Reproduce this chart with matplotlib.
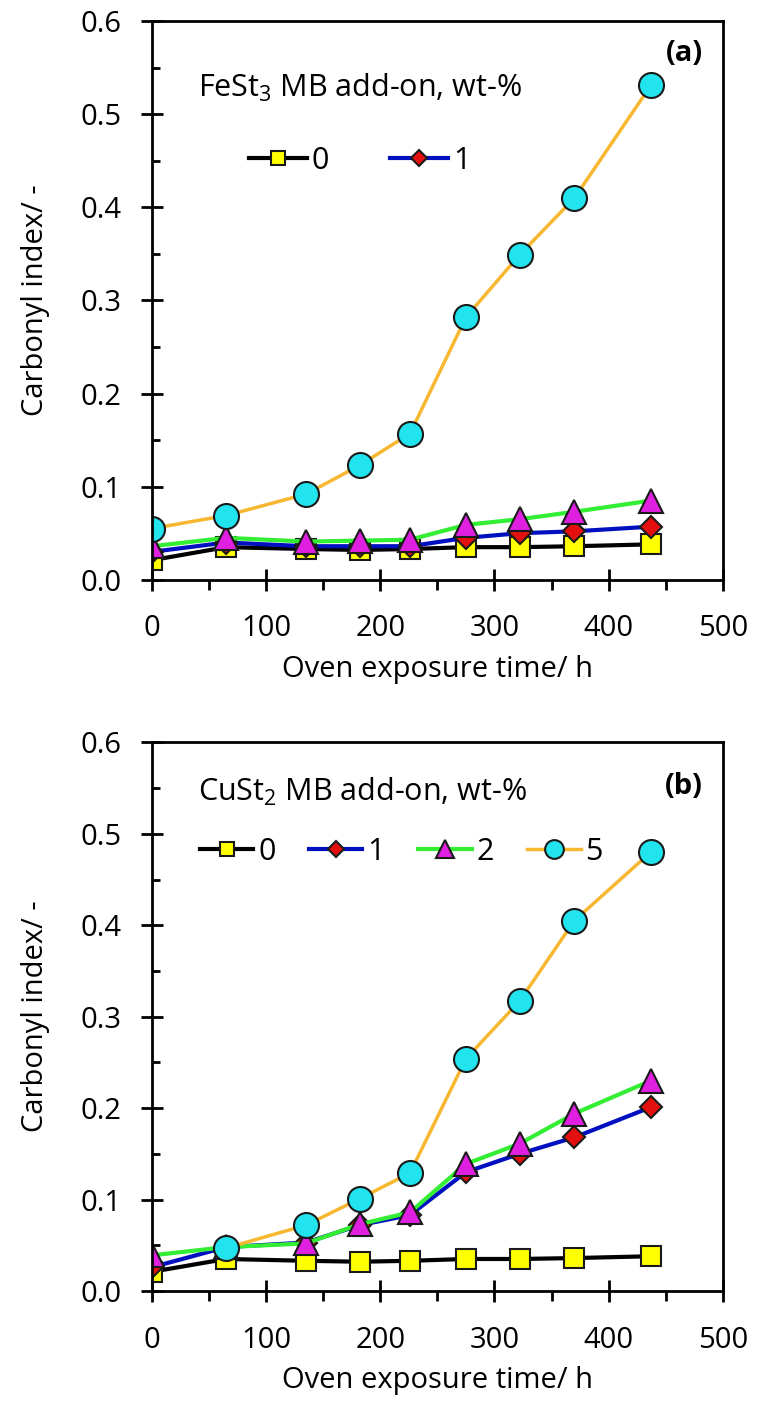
import numpy as np
import matplotlib
matplotlib.use("Agg")
from matplotlib import pyplot as plt
from matplotlib.ticker import MultipleLocator

plt.rcParams["font.family"] = ["Open Sans", "DejaVu Sans"]
plt.rcParams["mathtext.fontset"] = "custom"
plt.rcParams["mathtext.rm"] = "Open Sans"
plt.rcParams["mathtext.it"] = "Open Sans"

# exposure times (h)
hours = [0, 65, 135, 182, 226, 275, 322, 370, 437]
loadings = ["0", "1", "2", "5"]

# carbonyl index, FeSt3 masterbatch
fe_0 = [0.021, 0.035, 0.033, 0.032, 0.033, 0.035, 0.035, 0.036, 0.038]
fe_1 = [0.030, 0.040, 0.036, 0.036, 0.036, 0.045, 0.050, 0.052, 0.057]
fe_2 = [0.036, 0.045, 0.041, 0.042, 0.043, 0.059, 0.065, 0.073, 0.085]
fe_5 = [0.055, 0.069, 0.092, 0.123, 0.157, 0.282, 0.349, 0.410, 0.531]

# carbonyl index, CuSt2 masterbatch
cu_0 = [0.021, 0.035, 0.033, 0.032, 0.033, 0.035, 0.035, 0.036, 0.038]
cu_1 = [0.026, 0.048, 0.053, 0.072, 0.083, 0.130, 0.150, 0.168, 0.201]
cu_2 = [0.039, 0.048, 0.052, 0.073, 0.086, 0.139, 0.161, 0.194, 0.230]
cu_5 = [np.nan, 0.047, 0.072, 0.101, 0.129, 0.254, 0.317, 0.405, 0.480]

styles = [
    dict(color="black", marker="s", mfc="#ffff00", ms=14, lw=3),
    dict(color="#0010c0", marker="D", mfc="#e41010", ms=11, lw=3),
    dict(color="#33ee33", marker="^", mfc="#e020e0", ms=17, lw=3),
    dict(color="#f7b731", marker="o", mfc="#22e4ee", ms=18, lw=2.5),
]

fig = plt.figure(figsize=(7.57, 14.14), dpi=100)
ax_a = fig.add_axes([0.2008, 0.590, 0.754, 0.395])
ax_b = fig.add_axes([0.2008, 0.087, 0.754, 0.388])


def draw_panel(ax, series, title, tag, n_legend, leg_xy, title_y, tag_y, colspacing, handlelen):
    handles = []
    for vals, lab, st in zip(series, loadings, styles):
        h, = ax.plot(hours, vals, color=st["color"], lw=st["lw"], marker=st["marker"],
                     ms=st["ms"], mfc=st["mfc"], mec="#1a1a1a", mew=1.5, label=lab)
        handles.append(h)
    ax.set_xlim(0, 500)
    ax.set_ylim(0, 0.6)
    ax.xaxis.set_major_locator(MultipleLocator(100))
    ax.xaxis.set_minor_locator(MultipleLocator(50))
    ax.yaxis.set_major_locator(MultipleLocator(0.1))
    ax.yaxis.set_minor_locator(MultipleLocator(0.05))
    ax.yaxis.set_major_formatter(lambda v, p: f"{v:.1f}")
    ax.tick_params(which="major", direction="inout", length=16, width=2, labelsize=21)
    ax.tick_params(axis="x", which="major", pad=17)
    ax.tick_params(axis="y", which="major", pad=14)
    ax.tick_params(axis="x", which="minor", direction="out", length=7, width=2)
    ax.tick_params(axis="y", which="minor", direction="in", length=6, width=2)
    for sp in ax.spines.values():
        sp.set_linewidth(2)
    ax.set_xlabel("Oven exposure time/ h", fontsize=21, labelpad=8)
    ax.set_ylabel("Carbonyl index/ -", fontsize=21, labelpad=22)
    ax.text(0.08, title_y, title, transform=ax.transAxes, fontsize=22, va="center")
    ax.text(0.965, tag_y, tag, transform=ax.transAxes, fontsize=21,
            fontweight="bold", ha="right", va="center")
    ax.legend(handles=handles[:n_legend], loc="center left", bbox_to_anchor=leg_xy,
              ncol=n_legend, frameon=False, fontsize=22, handlelength=handlelen,
              handletextpad=0.15, columnspacing=colspacing, markerscale=0.75,
              borderaxespad=0, borderpad=0)


draw_panel(ax_a, [fe_0, fe_1, fe_2, fe_5], "FeSt$_3$ MB add-on, wt-%", "(a)", 2,
           (0.17, 0.75), 0.88, 0.943, 2.0, 1.9)
draw_panel(ax_b, [cu_0, cu_1, cu_2, cu_5], "CuSt$_2$ MB add-on, wt-%", "(b)", 4,
           (0.084, 0.80), 0.909, 0.92, 1.1, 1.75)

fig.savefig("out.png", dpi=100)
